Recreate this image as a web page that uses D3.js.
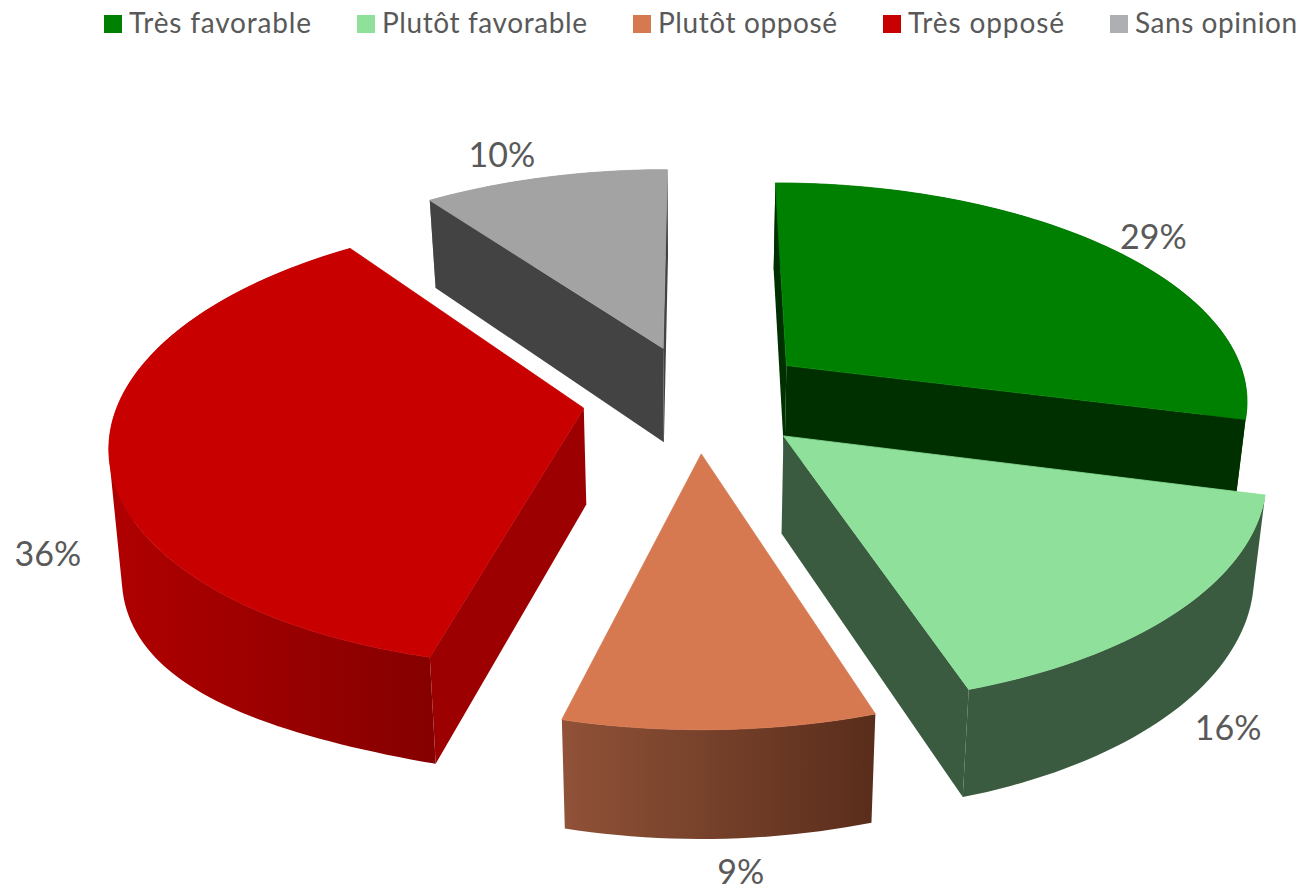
<!DOCTYPE html>
<html><head><meta charset="utf-8">
<script src="https://cdn.jsdelivr.net/npm/d3@7"></script>
<style>html,body{margin:0;padding:0;background:#fff}svg{display:block}</style>
</head><body><svg id="c" width="1301" height="885"></svg>
<script>
const categories=["Très favorable","Plutôt favorable","Plutôt opposé","Très opposé","Sans opinion"];
const values=[29,16,9,36,10];
const labels=["29%","16%","9%","36%","10%"];
const topColors=["#008000","#8ee09b","#d67850","#c80000","#a3a3a3"];
const legendColors=["#008000","#8ee09b","#d67850","#c80000","#aeafb2"];
const sideColors=[["#003000","#003000"],["#3a5b3f","#3a5b3f"],["#905238","#592d1b"],["#b00000","#850000"],["#8a8a8a","#8a8a8a"]];
const radialColors=["#003000","#3a5b3f","#5a2e1c","#9c0000","#434343"];
const drawOrder=[4,0,3,1,2];
const legendWidths=[182,205,179,156,162];
const R=464,E=115,CX=697.5,CY=398,TILT=28*Math.PI/180,DIST=2830,H=96,HK=.65,LEAN=.022;
const labelShift=[[44,-8],[49,121],[21,146],[-61,107],[-43,-19]];
const svg=d3.select("#c");
const defs=svg.append("defs");
const pie=d3.pie().sort(null).value(d=>d).startAngle(0).endAngle(2*Math.PI);
const arcs=pie(values);
function proj(X,Y){
  const yc=Y*Math.sin(TILT),dc=DIST+Y*Math.cos(TILT),s=DIST/dc;
  return {x:CX+s*X,y:CY-s*yc,s};
}
function low(p){
  const dx=p.x-CX,sag=30*Math.pow(Math.max(0,-dx-300)/290,2);
  return {x:p.x-LEAN*dx,y:p.y+H*Math.pow(p.s,HK)+sag};
}
const line=d3.line().x(d=>d.x).y(d=>d.y);
const drawPoly=(g,pts,fill,sw)=>g.append("path").attr("d",line(pts)+"Z").attr("fill",fill).attr("stroke",sw?fill:"none").attr("stroke-width",sw||0);
const cross=(a,b,c)=>(b.x-a.x)*(c.y-a.y)-(b.y-a.y)*(c.x-a.x);
arcs.forEach((a,i)=>{
  const g=defs.append("linearGradient").attr("id","g"+i);
  g.append("stop").attr("offset",0).attr("stop-color",sideColors[i][0]);
  g.append("stop").attr("offset",1).attr("stop-color",sideColors[i][1]);
});
drawOrder.forEach(i=>{
  const a=arcs[i],mid=(a.startAngle+a.endAngle)/2;
  const ox=E*Math.sin(mid),oy=E*Math.cos(mid);
  const pt=(t,r)=>proj(ox+r*Math.sin(t),oy+r*Math.cos(t));
  const apex=pt(0,0);
  const n=Math.ceil((a.endAngle-a.startAngle)*40);
  const rim=d3.range(n+1).map(k=>pt(a.startAngle+(a.endAngle-a.startAngle)*k/n,R));
  const inner=rim[Math.floor(n/2)],apexLow=low(apex);
  const g=svg.append("g");
  const wall=d3.pairs(rim).map(([p,q])=>{
    const quad=[p,q,low(q),low(p)];
    if(d3.polygonArea(quad.map(d=>[d.x,d.y]))<0) quad.reverse();
    return line(quad)+"Z";
  }).join("");
  g.append("path").attr("d",wall).attr("fill",`url(#g${i})`);
  [rim[0],rim[n]].forEach(e=>{
    if(cross(apex,e,inner)*cross(apex,e,apexLow)<0) drawPoly(g,[apex,e,low(e),apexLow],radialColors[i]);
  });
  drawPoly(g,[apex,...rim],topColors[i],.8);
});
arcs.forEach((a,i)=>{
  const mid=(a.startAngle+a.endAngle)/2;
  const r=E+R;
  const p=proj(r*Math.sin(mid),r*Math.cos(mid));
  svg.append("text").attr("x",p.x+labelShift[i][0]).attr("y",p.y+labelShift[i][1]).attr("text-anchor","middle").attr("dominant-baseline","middle")
    .attr("font-family","Lato").attr("font-size",34).attr("fill","#595959").text(labels[i]);
});
let lx=104;
categories.forEach((c,i)=>{
  svg.append("rect").attr("x",lx).attr("y",15).attr("width",18).attr("height",18).attr("fill",legendColors[i]);
  svg.append("text").attr("x",lx+25).attr("y",33).attr("font-family","Lato").attr("font-size",28).attr("textLength",legendWidths[i]).attr("lengthAdjust","spacing").attr("fill","#595959").text(c);
  lx+=25+legendWidths[i]+46;
});
</script></body></html>
